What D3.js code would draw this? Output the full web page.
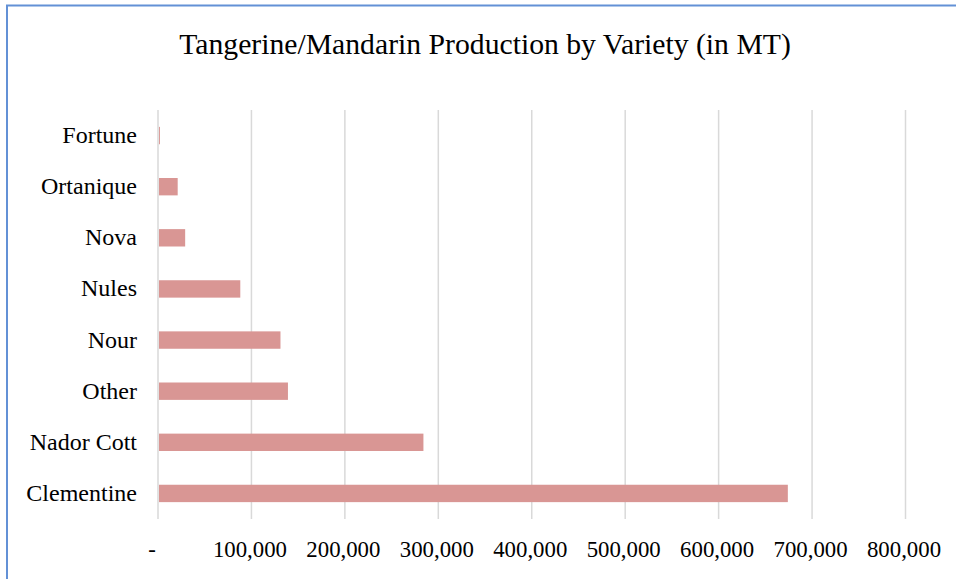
<!DOCTYPE html>
<html>
<head>
<meta charset="utf-8">
<script src="https://cdn.jsdelivr.net/npm/d3@7"></script>
<style>
  body { margin: 0; background: #fff; }
  svg { display: block; }
</style>
</head>
<body>
<svg id="chart"></svg>
<script>
// Data
const varieties = ["Fortune", "Ortanique", "Nova", "Nules", "Nour", "Other", "Nador Cott", "Clementine"];
const production = [1000, 20000, 28000, 87000, 130000, 138000, 283000, 673000];
const tickValues = [0, 100000, 200000, 300000, 400000, 500000, 600000, 700000, 800000];

const width = 956;
const height = 579;
const serif = "'Liberation Serif', 'Times New Roman', Times, serif";

const svg = d3.select("#chart")
    .attr("width", width)
    .attr("height", height);

// Chart border (runs off the right/bottom edges)
svg.append("rect")
    .attr("x", 7)
    .attr("y", 5.5)
    .attr("width", width + 20)
    .attr("height", height + 20)
    .attr("fill", "none")
    .attr("stroke", "#6391d6")
    .attr("stroke-width", 2);

// Title
svg.append("text")
    .attr("x", 485)
    .attr("y", 54)
    .attr("text-anchor", "middle")
    .attr("font-family", serif)
    .attr("font-size", 29.7)
    .attr("fill", "#000")
    .text("Tangerine/Mandarin Production by Variety (in MT)");

// Scales
const xScale = d3.scaleLinear()
    .domain([0, 800000])
    .range([158, 905.5]);

const yScale = d3.scaleBand()
    .domain(varieties)
    .range([110, 519])
    .paddingInner(0.66)
    .paddingOuter(0.33);

// Gridlines
svg.append("g")
    .selectAll("line")
    .data(tickValues)
    .enter()
    .append("line")
    .attr("x1", d => xScale(d))
    .attr("x2", d => xScale(d))
    .attr("y1", 110)
    .attr("y2", 519)
    .attr("stroke", "#d9d9d9")
    .attr("stroke-width", 1.5);

// Bars
svg.selectAll(".bar")
    .data(varieties)
    .enter()
    .append("rect")
    .attr("class", "bar")
    .attr("x", xScale(0) + 1)
    .attr("y", d => yScale(d))
    .attr("width", (d, i) => Math.max(0, xScale(production[i]) - xScale(0)))
    .attr("height", yScale.bandwidth())
    .attr("fill", "#d99694");

// Category labels
svg.append("g")
    .selectAll("text")
    .data(varieties)
    .enter()
    .append("text")
    .attr("x", 137)
    .attr("y", d => yScale(d) + yScale.bandwidth() / 2 + 7.5)
    .attr("text-anchor", "end")
    .attr("font-family", serif)
    .attr("font-size", 24)
    .attr("fill", "#000")
    .text(d => d);

// X tick labels
const fmt = d3.format(",");
svg.append("g")
    .selectAll("text")
    .data(tickValues)
    .enter()
    .append("text")
    .attr("x", d => d === 0 ? xScale(d) - 6 : xScale(d) - 1.5)
    .attr("y", 557)
    .attr("text-anchor", "middle")
    .attr("font-family", serif)
    .attr("font-size", 22.8)
    .attr("fill", "#000")
    .text(d => d === 0 ? "-" : fmt(d));
</script>
</body>
</html>
